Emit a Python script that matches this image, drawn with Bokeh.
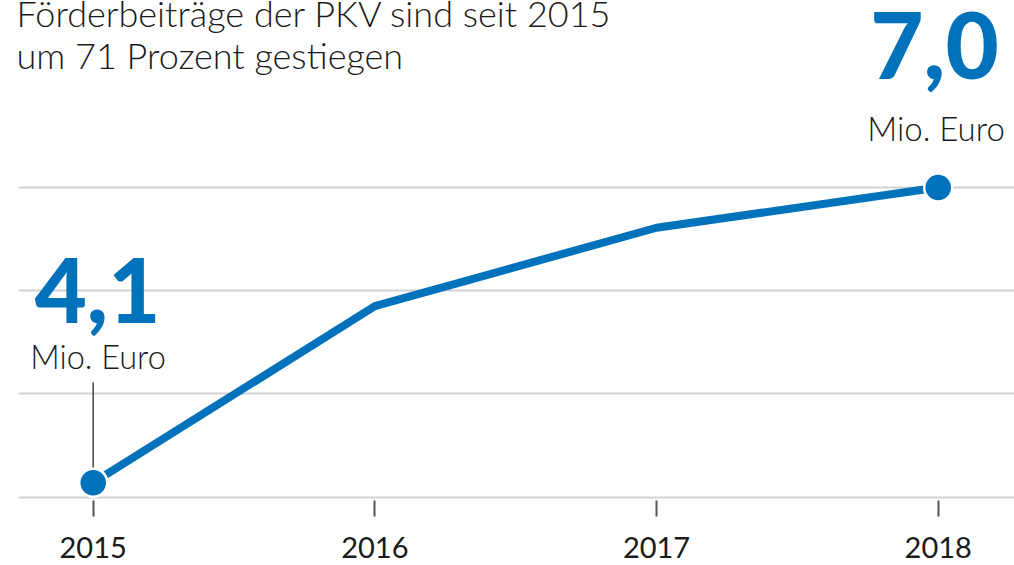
from bokeh.plotting import figure
from bokeh.models import Label, FixedTicker
from bokeh.embed import file_html
from bokeh.resources import INLINE

# ---- data ----
years = [2015, 2016, 2017, 2018]
values = [4.14, 5.85, 6.61, 7.0]          # Mio. Euro
tick_labels = ["2015", "2016", "2017", "2018"]
grid_values = [4, 5, 6, 7]
title_lines = ["Förderbeiträge der PKV sind seit 2015", "um 71 Prozent gestiegen"]
start_label = "4,1"
end_label = "7,0"
unit_label = "Mio. Euro"

# ---- layout ----
BLUE = "#0072bc"
DARK = "#1a1a1a"
FONT = "Lato"
FONT_LIGHT = "Lato Light, Lato"
FONT_BLACK = "Lato Black, Lato"
W, H = 1014, 565
LEFT, BOTTOM = 18, 65
FRAME_W, FRAME_H = W - LEFT, H - BOTTOM
KX, KY = 281.67, 103.2               # px per year, px per Mio.
X0 = years[0] - (92.7 - LEFT) / KX
X1 = X0 + FRAME_W / KX
Y1 = values[-1] + 187 / KY
Y0 = Y1 - FRAME_H / KY
BASE_FIX = 0.36                      # baseline correction (fraction of font size)


def dx(px):
    return X0 + (px - LEFT) / KX


def dy(py):
    return Y1 - py / KY


def add_text(px, py_base, text, size, color=DARK, font=FONT, align="center"):
    p.add_layout(Label(x=dx(px), y=dy(py_base - BASE_FIX * size), text=text,
                       text_font=font, text_font_size=f"{size}px",
                       text_color=color, text_align=align,
                       text_baseline="alphabetic"))


p = figure(width=W, height=H, x_range=(X0, X1), y_range=(Y0, Y1),
           output_backend="svg", toolbar_location=None, y_axis_location=None,
           min_border_left=LEFT, min_border_right=0, min_border_top=0,
           min_border_bottom=BOTTOM)
p.outline_line_color = None
p.background_fill_color = "white"
p.border_fill_color = "white"

# grid
p.xgrid.visible = False
p.ygrid.ticker = FixedTicker(ticks=grid_values)
p.ygrid.grid_line_color = "#d2d2d2"
p.ygrid.grid_line_width = 2

# x axis
ax = p.xaxis[0]
ax.ticker = FixedTicker(ticks=years)
ax.major_label_overrides = {y: t for y, t in zip(years, tick_labels)}
ax.axis_line_color = None
ax.major_tick_line_color = "#555555"
ax.major_tick_line_width = 2
ax.major_tick_in = 0
ax.major_tick_out = 16
ax.minor_tick_line_color = None
ax.major_label_text_font = FONT
ax.major_label_text_font_size = "29px"
ax.major_label_text_color = DARK
ax.major_label_standoff = 20

# leader line for the first value
p.segment(x0=[years[0]], y0=[values[0]], x1=[years[0]], y1=[dy(382)],
          line_color="#444444", line_width=1.5)

# series
p.line(years, values, line_width=8, line_color=BLUE, line_join="round")
p.scatter([years[0], years[-1]], [values[0], values[-1]], size=28,
          fill_color=BLUE, line_color="white", line_width=2.5)

# texts
add_text(16, 25.5, title_lines[0], 36, font=FONT_LIGHT, align="left")
add_text(16, 67, title_lines[1], 36, font=FONT_LIGHT, align="left")
add_text(934, 78, end_label, 92, color=BLUE, font=FONT_BLACK)
add_text(935.5, 139, unit_label, 33, font=FONT_LIGHT)
add_text(97, 322, start_label, 90, color=BLUE, font=FONT_BLACK)
add_text(97.5, 368, unit_label, 32.5, font=FONT_LIGHT)

open("out.html", "w").write(file_html(p, INLINE))
